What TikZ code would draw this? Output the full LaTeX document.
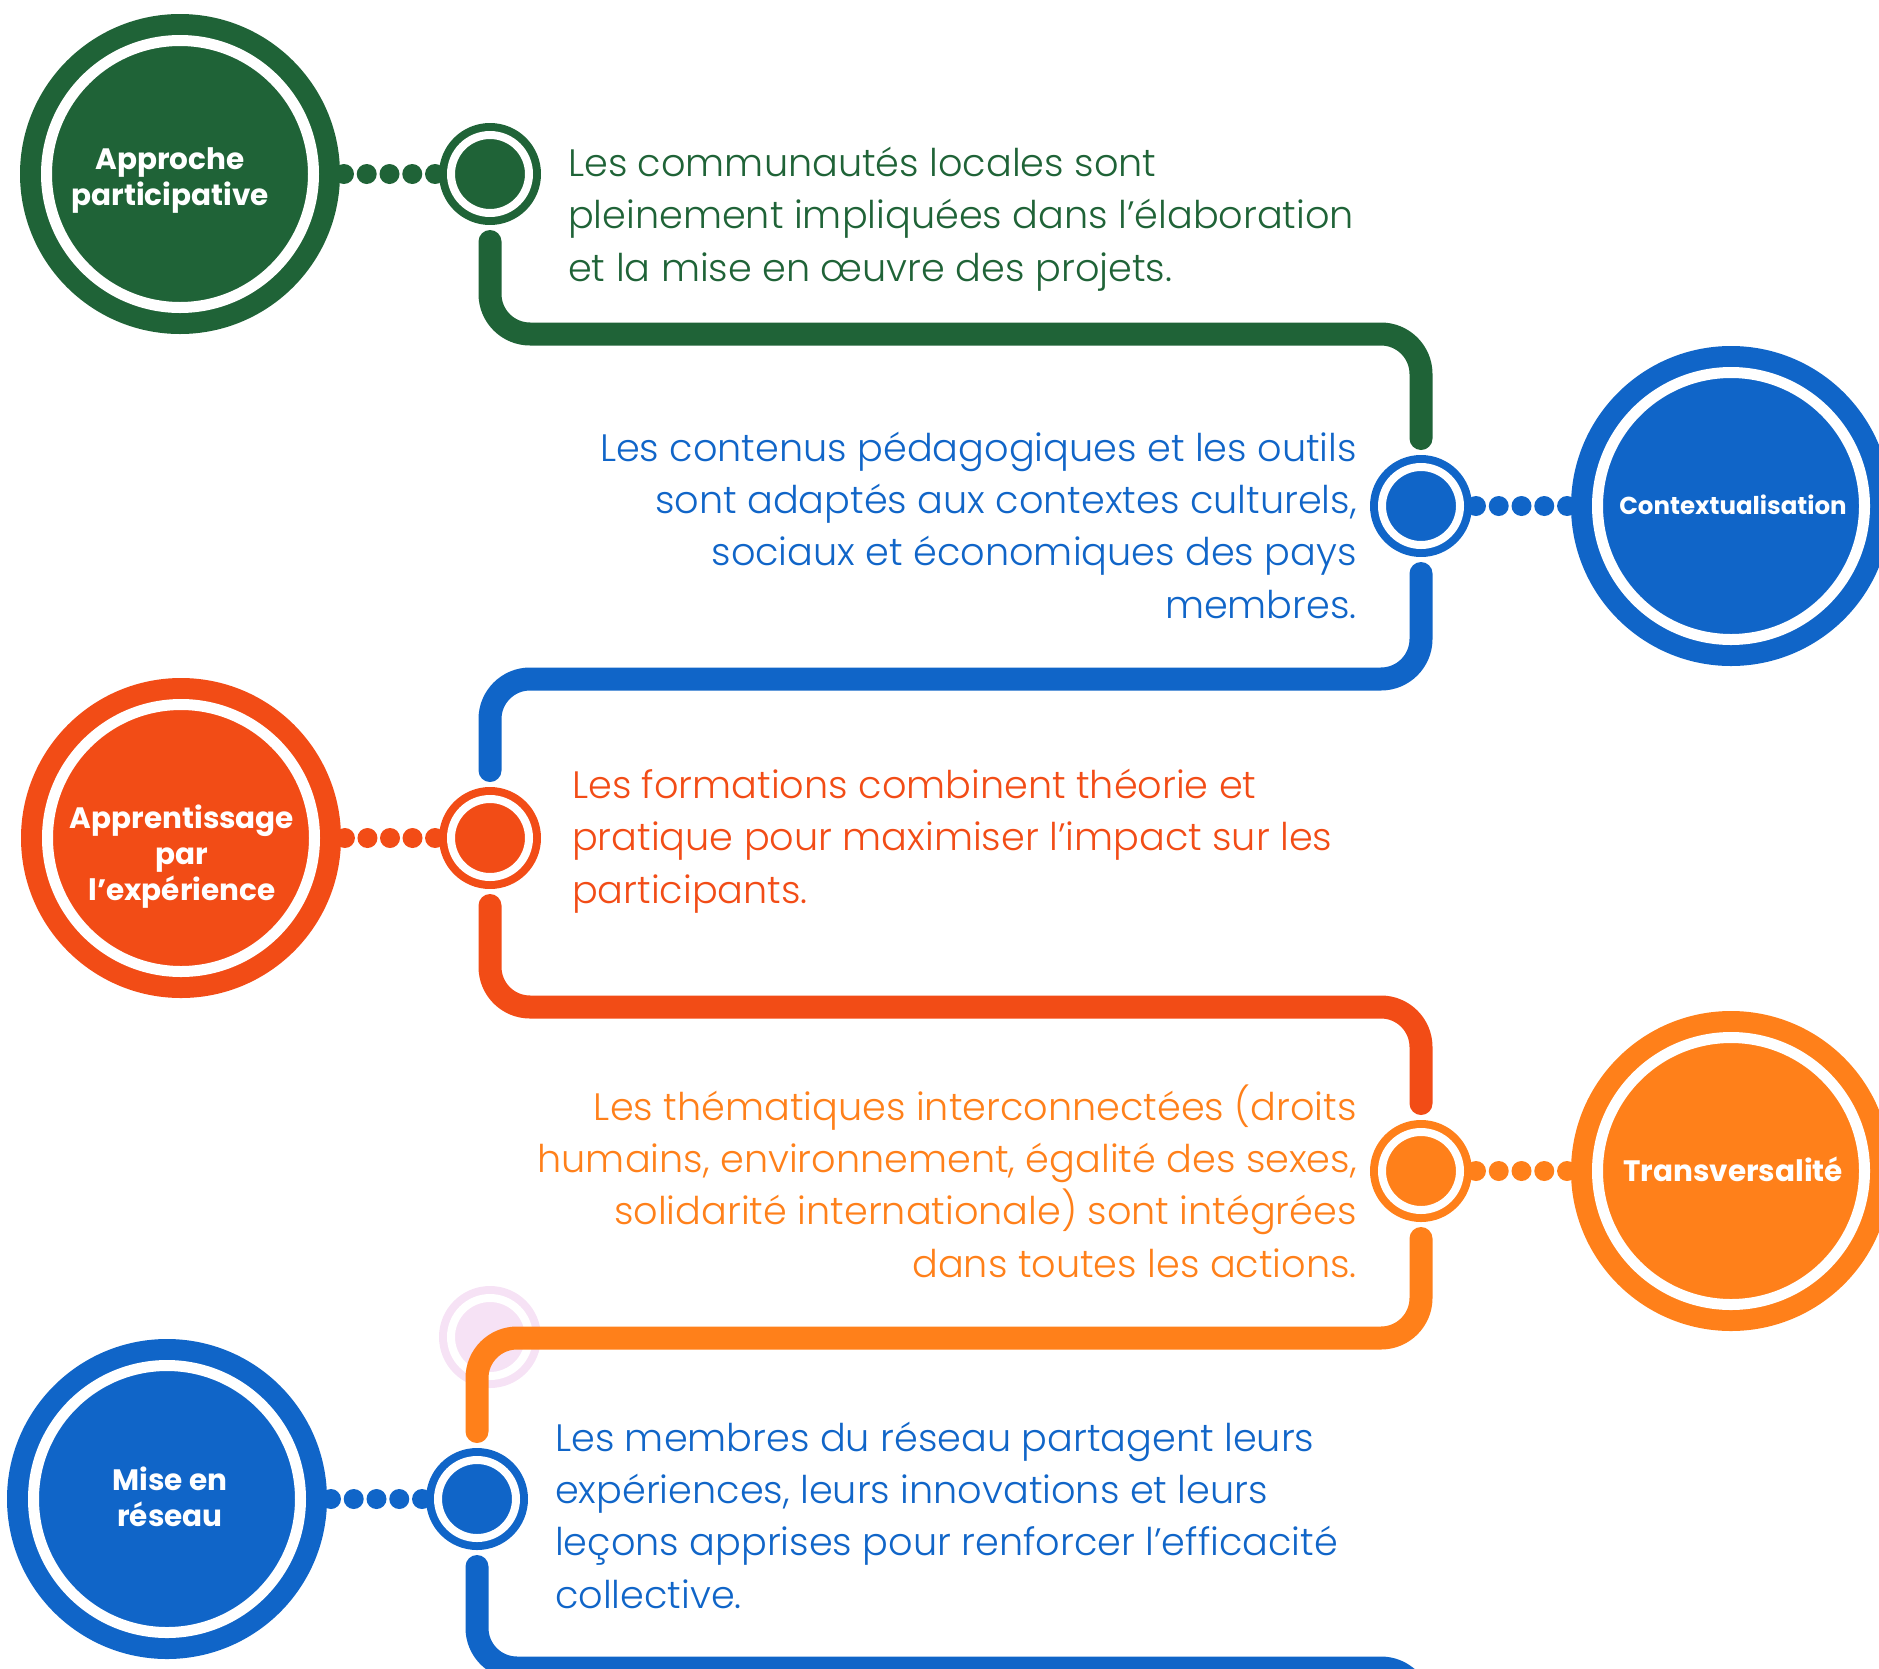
\documentclass[tikz,border=0pt]{standalone}
\usepackage{fontspec}
\setmainfont{Poppins}
\newfontfamily\leger{Poppins Light}
\usetikzlibrary{calc,backgrounds}
\definecolor{vert}{RGB}{31,99,55}
\definecolor{bleu}{RGB}{16,101,200}
\definecolor{rouge}{RGB}{242,76,22}
\definecolor{orangec}{RGB}{255,128,26}
\definecolor{rose}{RGB}{246,226,245}
\begin{document}
\begin{tikzpicture}[x=1pt,y=-1pt,line cap=round,line join=round,
	grand/.style={circle,fill=#1,draw=#1,double=white,double distance=11pt,line width=21pt,minimum size=267pt,inner sep=0pt,outer sep=26.5pt},
	petit/.style={circle,fill=#1,draw=#1,double=white,double distance=8pt,line width=8pt,minimum size=78pt,inner sep=0pt,outer sep=12pt},
	etiquette/.style={text=white,font=\fontsize{29.5}{36}\selectfont\bfseries,align=center,inner sep=0pt},
	piste/.style={draw=#1,line width=23pt,rounded corners=40pt,shorten >=16.5pt,shorten <=16.5pt},
	texte/.style={text=#1,font=\leger\fontsize{38.2}{52.3}\selectfont,inner sep=0pt}]
	
	\useasboundingbox (0,0) rectangle (1879,1668);
	\clip (0,0) rectangle (1879,1668);
	
	\node[petit=rose] (fantome) at (490,1337) {}; % cercle pâle
	
	\node[grand=vert] (b1) at (180,174) {};
	\node[petit=vert] (s1) at (490,174) {};
	\node[petit=bleu] (s2) at (1421,506) {};
	\node[grand=bleu] (b2) at (1731,506) {};
	\node[grand=rouge] (b3) at (181,838) {};
	\node[petit=rouge] (s3) at (490,838) {};
	\node[petit=orangec] (s4) at (1421,1171) {};
	\node[grand=orangec] (b4) at (1731,1171) {};
	\node[grand=bleu] (b5) at (167,1499) {};
	\node[petit=bleu] (s5) at (477,1499) {};
	
	\node[etiquette] (l1) at (170,181) {Approche\\participative};
	\node[etiquette,font=\fontsize{24.5}{30}\selectfont\bfseries] (l2) at (1733,505) {Contextualisation};
	\node[etiquette] (l3) at (182,857) {Apprentissage\\par\\l’expérience};
	\node[etiquette] (l4) at (1733,1169) {Transversalité};
	\node[etiquette] (l5) at (170,1497) {Mise en\\réseau};
	
	% pointillés entre les cercles
	\begin{scope}[on background layer]
		\foreach \a/\b/\c in {b1/s1/vert,s2/b2/bleu,b3/s3/rouge,s4/b4/orangec,b5/s5/bleu}
		\foreach \t in {0.04,0.27,0.5,0.73,0.96}
		\fill[\c] ($(\a.east)!\t!(\b.west)$) circle(10pt);
	\end{scope}
	
	% le chemin
	\coordinate (h1) at (0,334);
	\coordinate (h2) at (0,679);
	\coordinate (h3) at (0,1007);
	\coordinate (h4) at (0,1338);
	\coordinate (h5) at (1421,1668);
	\coordinate (fin) at (1421,1760);
	\draw[piste=vert] (s1.south) -- (s1.south |- h1) -- (s2.north |- h1) -- (s2.north);
	\draw[piste=bleu] (s2.south) -- (s2.south |- h2) -- (s3.north |- h2) -- (s3.north);
	\draw[piste=rouge] (s3.south) -- (s3.south |- h3) -- (s4.north |- h3) -- (s4.north);
	\draw[piste=orangec] (s4.south) -- (s4.south |- h4) -- (s5.north |- h4) -- (s5.north);
	\draw[piste=bleu,shorten >=0pt] (s5.south) -- (s5.south |- h5) -- (h5) -- (fin);
	
	% textes (ancre = ligne de base de la dernière ligne)
	\node[texte=vert,anchor=base west,align=left] (t1) at (568,281) {Les communautés locales sont\\pleinement impliquées dans l’élaboration\\et la mise en œuvre des projets.};
	\node[texte=bleu,anchor=base east,align=right] (t2) at (1357,618) {Les contenus pédagogiques et les outils\\sont adaptés aux contextes culturels,\\sociaux et économiques des pays\\membres.};
	\node[texte=rouge,anchor=base west,align=left] (t3) at (572,903) {Les formations combinent théorie et\\pratique pour maximiser l’impact sur les\\participants.};
	\node[texte=orangec,anchor=base east,align=right] (t4) at (1357,1277) {Les thématiques interconnectées (droits\\humains, environnement, égalité des sexes,\\solidarité internationale) sont intégrées\\dans toutes les actions.};
	\node[texte=bleu,anchor=base west,align=left] (t5) at (555,1608) {Les membres du réseau partagent leurs\\expériences, leurs innovations et leurs\\leçons apprises pour renforcer l’efficacité\\collective.};
\end{tikzpicture}
\end{document}
